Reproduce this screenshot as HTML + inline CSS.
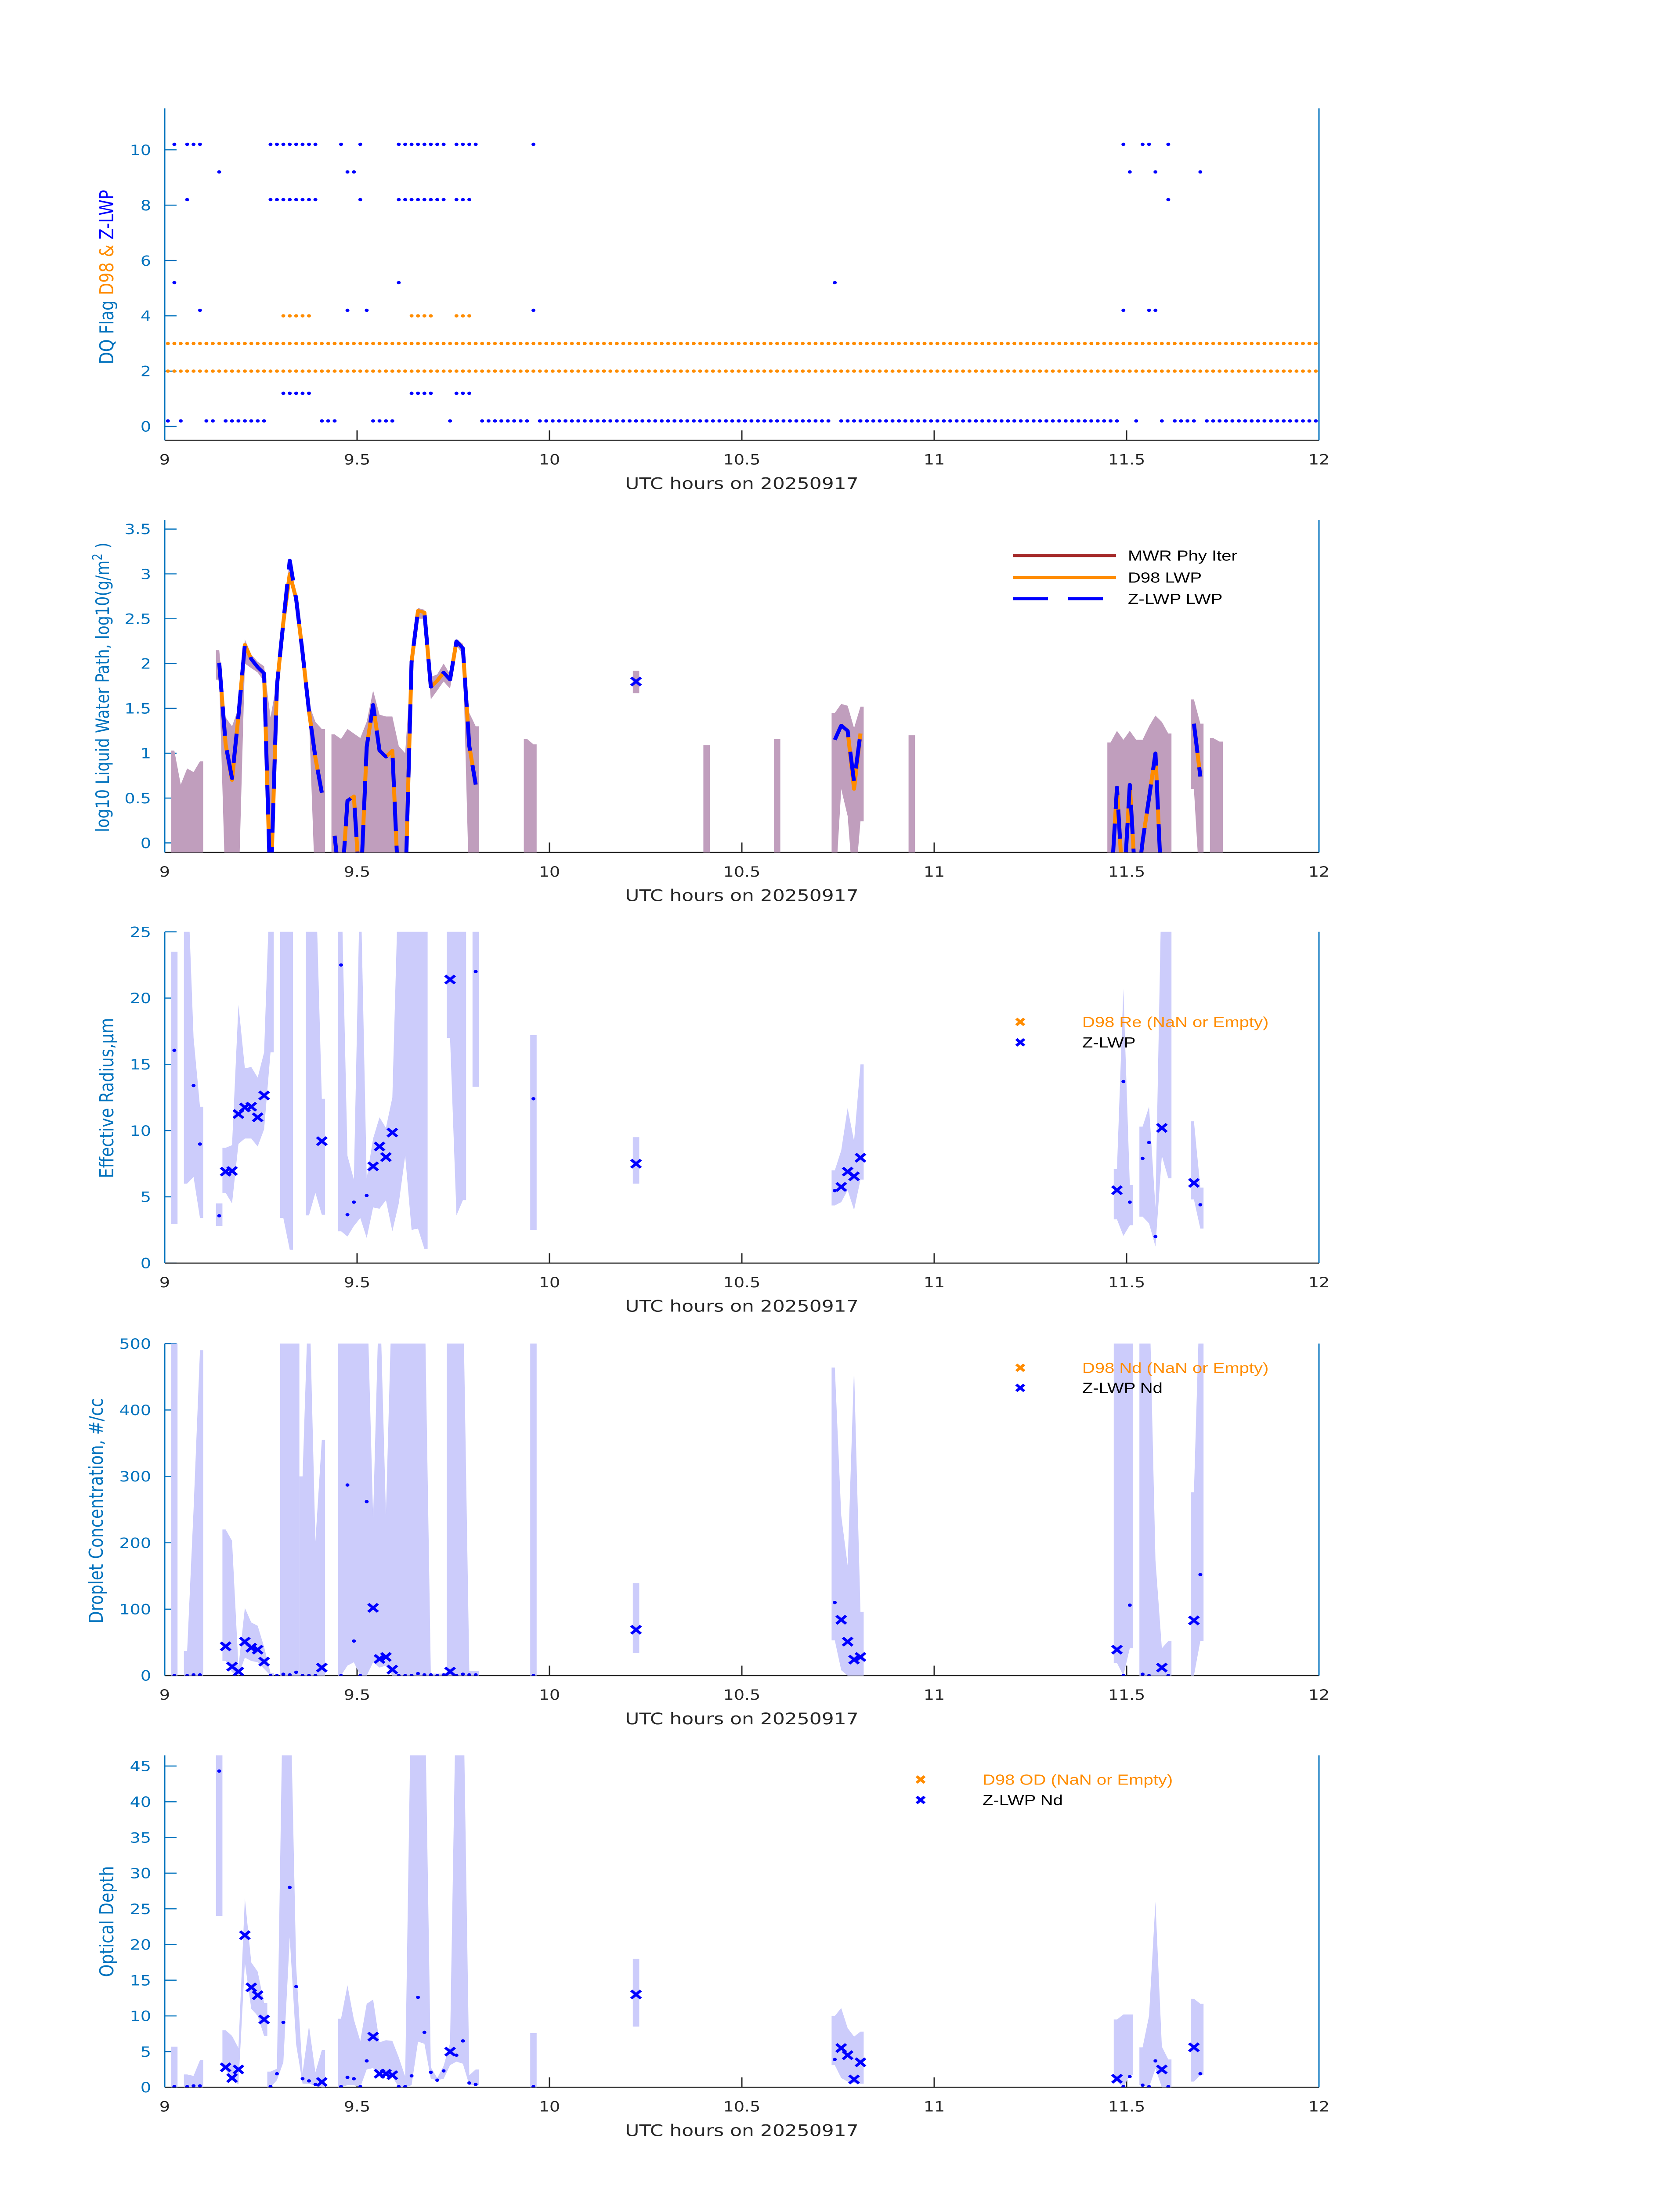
<!DOCTYPE html>
<html>
<head>
<meta charset="utf-8">
<style>
html,body{margin:0;padding:0;background:#fff;width:100%;height:100%;overflow:hidden;}
svg{display:block;position:absolute;left:0;top:0;width:100vw;height:100vh;}
text{font-family:"DejaVu Sans","Liberation Sans",sans-serif;}
.leg{font-family:"Liberation Sans Narrow","Liberation Sans",sans-serif;}
</style>
</head>
<body>
<svg id="fig" xmlns="http://www.w3.org/2000/svg" viewBox="0 0 3825 6000" preserveAspectRatio="none">
<rect x="0" y="0" width="3825" height="6000" fill="#ffffff"/>
</svg>
<script>
// ===== Data (minute index i => time = 9 + (i+0.5)/60 UTC hours) =====
function span(a,b){var r=[];for(var k=a;k<=b;k++)r.push(k);return r;}
var zFlag10 = [1,3,4,5].concat(span(16,23),[27,30],span(36,43),span(45,48),[57,149,152,153,156]);
var zFlag9 = [8,28,29,150,154,161];
var zFlag8 = [3].concat(span(16,23),[30],span(36,43),[45,46,47,156]);
var zFlag5 = [1,36,104];
var zFlag4 = [5,28,31,57,149,153,154];
var zFlag1 = span(18,22).concat(span(38,41),[45,46,47]);
var zFlag0 = [0,2,6,7].concat(span(9,15),[24,25,26],span(32,35),[44],span(49,56),span(58,103),span(105,148),[151,155],span(157,160),span(162,179));
var d98Flag4 = span(18,22).concat(span(38,41),[45,46,47]);
var d98Flag3 = span(0,179);
var d98Flag2 = span(0,179);

var zLwpMin = [8,9,10,11,12,13,14,15,16,17,18,19,20,21,22,23,24,26,27,28,29,30,31,32,33,34,35,36,37,38,39,40,41,42,43,44,45,46,47,48,73,104,105,106,107,108,147,148,149,150,151,152,153,154,155,160,161];
var zLwpVal = [2.01,1.1,0.72,1.42,2.21,2.05,1.96,1.89,-0.6,1.75,2.46,3.15,2.72,2.12,1.47,0.95,0.56,0.08,-0.6,0.47,0.52,-0.6,1.07,1.54,1.03,0.96,1.03,-0.6,-0.6,2.02,2.59,2.57,1.74,1.81,1.9,1.82,2.25,2.17,1.08,0.65,1.8,1.15,1.31,1.25,0.68,1.22,-0.6,0.62,-0.6,0.65,-0.6,0.02,0.5,1.0,-0.6,1.33,0.74];
var d98LwpMin = [8,9,10,11,12,13,14,15,16,17,18,19,20,21,22,23,24,26,27,28,29,30,31,32,33,34,35,36,37,38,39,40,41,42,43,44,45,46,47,48,105,106,107,108,147,148,149,150,151,152,153,154,155,160,161];
var d98LwpVal = [2.01,1.1,0.7,1.42,2.21,2.05,1.96,1.89,-0.6,1.75,2.46,3.0,2.72,2.12,1.47,0.95,0.56,0.08,-0.6,0.47,0.52,-0.6,1.07,1.54,1.03,0.96,1.03,-0.6,-0.6,2.02,2.59,2.57,1.74,1.81,1.9,1.82,2.25,2.17,1.08,0.65,1.31,1.25,0.6,1.22,-0.6,0.62,-0.6,0.65,-0.6,0.02,0.5,1.0,-0.6,1.33,0.74];
var lwpBandMin = [1,2,3,4,5,null,8,9,10,11,12,13,14,15,16,17,18,19,20,21,22,23,24,null,26,27,28,29,30,31,32,33,34,35,36,37,38,39,40,41,42,43,44,45,46,47,48,null,56,57,null,73,null,84,null,95,null,104,105,106,107,108,null,116,null,147,148,149,150,151,152,153,154,155,156,null,160,161,null,163,164];
var lwpBandUp = [1.03,0.65,0.83,0.79,0.91,null,2.15,1.4,1.3,1.5,2.27,2.1,2.02,1.97,1.4,1.8,2.5,3.17,2.75,2.15,1.55,1.35,1.27,null,1.21,1.16,1.27,1.22,1.17,1.35,1.7,1.43,1.41,1.41,1.08,1.0,2.05,2.62,2.6,1.85,1.88,2.0,1.88,2.27,2.22,1.45,1.3,null,1.16,1.1,null,1.92,null,1.09,null,1.16,null,1.45,1.55,1.53,1.28,1.52,null,1.2,null,1.12,1.25,1.15,1.25,1.15,1.15,1.3,1.42,1.35,1.22,null,1.6,1.33,null,1.17,1.13];
var lwpBandLo = [-0.6,-0.6,-0.6,-0.6,-0.6,null,1.82,-0.6,-0.6,-0.6,2.0,1.95,1.9,1.8,-0.6,1.7,2.4,3.1,2.7,2.05,1.4,-0.6,-0.6,null,-0.6,-0.6,-0.6,-0.6,-0.6,-0.6,-0.6,-0.6,-0.6,-0.6,-0.6,-0.6,1.95,2.5,2.5,1.6,1.7,1.8,1.72,2.2,2.1,-0.6,-0.6,null,-0.6,-0.6,null,1.67,null,-0.6,null,-0.6,null,-0.6,0.6,0.3,-0.6,0.24,null,-0.6,null,-0.6,-0.6,-0.6,-0.6,-0.6,-0.6,-0.6,-0.6,-0.6,-0.6,null,0.6,-0.6,null,-0.6,-0.6];

var reDotMin = [1,4,5,8,27,28,29,31,48,57,104,149,150,152,153,154,161];
var reDotVal = [16.06,13.4,8.98,3.57,22.5,3.65,4.6,5.1,22.0,12.4,5.47,13.7,4.6,7.9,9.1,2.0,4.4];
var reXMin = [9,10,11,12,13,14,15,24,32,33,34,35,44,73,105,106,107,108,148,155,160];
var reXVal = [6.9,6.95,11.25,11.75,11.8,11.0,12.65,9.2,7.3,8.8,8.0,9.85,21.4,7.5,5.75,6.9,6.55,7.95,5.5,10.2,6.05];
var reBandMin = [1,null,3,4,5,null,8,null,9,10,11,12,13,14,15,16,null,18,19,null,22,23,24,null,27,28,29,30,31,32,33,34,35,36,37,38,39,40,null,44,45,46,null,48,null,57,null,73,null,104,105,106,107,108,null,148,149,150,null,152,153,154,155,156,null,160,161];
var reBandUp = [23.5,null,30,17,11.8,null,4.5,null,8.7,8.9,19.5,14.7,14.8,14.0,15.9,30,null,30,30,null,30,30,12.4,null,30,8.1,6.3,30,6.4,9.4,11.0,10.2,12.5,30,30,30,30,30,null,30,30,30,null,30,null,17.2,null,9.5,null,7.0,8.5,11.7,9.2,15.0,null,7.1,20.7,5.9,null,10.3,11.8,4.2,30,30,null,10.7,5.7];
var reBandLo = [2.95,null,6.0,6.5,3.4,null,2.8,null,5.3,4.5,9.0,9.4,9.4,8.8,10.1,15.9,null,3.4,1.0,null,3.6,5.3,3.65,null,2.4,2.0,2.8,3.4,1.9,4.2,4.1,4.75,2.4,4.5,8.1,2.5,2.6,1.07,null,17.0,3.6,4.75,null,13.3,null,2.5,null,6.0,null,4.35,4.6,5.5,4.0,6.3,null,3.3,2.05,2.85,null,3.5,3.0,1.25,8.1,6.4,null,4.8,2.6];

var ndDotMin = [1,3,4,5,16,17,18,19,20,21,22,23,27,28,29,30,31,36,37,38,39,40,41,42,43,45,46,47,48,57,104,149,150,152,153,156,161];
var ndDotVal = [0,0,1,1,0,0,2,1,5,0,0,0,0,287,52,0,262,0,0,0,3,1,1,0,1,0,2,1,1,0,110,0,106,2,0,0,152];
var ndXMin = [9,10,11,12,13,14,15,24,32,33,34,35,44,73,105,106,107,108,148,155,160];
var ndXVal = [44,13.5,6,51,42,39,21,12,102,25,28,9,6,69,84,51,24,28,39,12,83];
var ndBandMin = [1,null,3,4,5,null,9,10,11,12,13,14,15,16,null,18,19,20,null,21,22,23,24,null,27,28,29,30,31,32,33,34,35,36,37,38,39,40,41,42,43,null,44,45,46,47,48,null,57,null,73,null,104,105,106,107,108,null,148,149,150,null,152,153,154,155,156,null,160,161];
var ndBandUp = [600,null,37,250,490,null,220,203,13,102,80,75,43,4,null,600,600,600,null,300,600,202,355,null,600,600,600,600,600,238,600,242,600,600,600,600,600,600,3,3,3,null,600,600,600,7,7,null,600,null,139,null,464,241,166,464,96,null,600,600,600,null,600,600,174,41,52,null,276,600];
var ndBandLo = [0,null,0,0,0,null,22,5,0,27,22,20,10,0,null,0,0,0,null,0,0,0,0,null,0,15,20,0,0,20,12,15,0,0,0,0,0,0,0,0,0,null,0,0,0,0,0,null,0,null,34,null,53,8,0,0,0,null,19,0,41,null,0,0,0,0,0,null,0,52];

var odDotMin = [1,3,4,5,8,16,17,18,19,20,21,22,23,27,28,29,30,31,36,37,38,39,40,41,42,43,45,46,47,48,57,104,149,150,152,153,154,156,161];
var odDotVal = [0.1,0.1,0.2,0.2,44.3,0.1,1.9,9.1,28.0,14.1,1.2,0.9,0.4,0.1,1.4,1.2,0.1,3.7,0.1,0.1,1.6,12.6,7.7,2.1,1.0,2.3,4.5,6.5,0.6,0.4,0.1,3.9,0.1,1.5,0.3,0.1,3.7,0.1,1.9];
var odXMin = [9,10,11,12,13,14,15,24,32,33,34,35,44,73,105,106,107,108,148,155,160];
var odXVal = [2.8,1.3,2.5,21.3,14.0,12.9,9.5,0.75,7.1,1.9,1.9,1.7,5.0,13.0,5.5,4.5,1.1,3.5,1.2,2.5,5.6];
var odBandMin = [1,null,3,4,5,null,8,null,9,10,11,12,13,14,15,null,16,17,18,19,20,21,22,23,24,null,27,28,29,30,31,32,33,34,35,36,37,38,39,40,41,42,43,44,45,46,47,48,null,57,null,73,null,104,105,106,107,108,null,148,149,150,null,152,153,154,155,156,null,160,161];
var odBandUp = [5.7,null,1.8,1.6,3.8,null,60,null,8.0,7.2,5.5,26.5,17.5,16.2,11.8,null,2.2,2.6,60,60,17,2,8.6,2.1,5.2,null,9.6,14.3,9.5,6.5,11.7,12.3,6.3,6.6,6.5,4.2,1.5,60,60,60,2.8,1.3,3.0,6.2,60,60,1.7,2.5,null,7.6,null,18,null,10,11.1,8.3,7.1,7.8,null,9.5,10.2,10.2,null,5.6,10,26,5.7,3.9,null,12.4,11.7];
var odBandLo = [0,null,0,0,0,null,24,null,2.5,1.0,0.4,17.5,11,10,7.2,null,0,1.0,3.5,21,6,0.5,0.5,0.2,0,null,0,0.3,0.3,0,2.5,2.7,1.5,1.6,1.5,0,0,0.3,6.4,6.1,1.2,1.0,1.2,3.1,3.6,3.3,0.3,0.3,null,0,null,8.5,null,3.1,1.3,0.8,0.6,0.5,null,0.8,0,1.7,null,0.3,0,2.6,0,0,null,0.8,1.7];

var xTicks = [9,9.5,10,10.5,11,11.5,12];
var xTickLabels = ["9","9.5","10","10.5","11","11.5","12"];
var p1Ticks = [0,2,4,6,8,10];
var p2Ticks = [0,0.5,1,1.5,2,2.5,3,3.5];
var p2TickLabels = ["0","0.5","1","1.5","2","2.5","3","3.5"];
var p3Ticks = [0,5,10,15,20,25];
var p4Ticks = [0,100,200,300,400,500];
var p5Ticks = [0,5,10,15,20,25,30,35,40,45];

var NS = "http://www.w3.org/2000/svg";
var svg = document.getElementById('fig');
var X0 = 375, X1 = 3003;
var AXC = "#0072BD", DARK = "#262626", BLUE = "#0000FF", ORANGE = "#FF8C00";
function mk(tag, parent){ var e = document.createElementNS(NS, tag); parent.appendChild(e); return e; }
function xHour(h){ return X0 + (h - 9) / 3 * (X1 - X0); }
function xMin(m){ return xHour(9 + (m + 0.5) / 60); }

var panels = [
 {top:296, bot:1203, ymin:-0.5, ymax:11.5, ticks:p1Ticks, labels:null},
 {top:1421, bot:2329, ymin:-0.106, ymax:3.6, ticks:p2Ticks, labels:p2TickLabels},
 {top:2546, bot:3451, ymin:0, ymax:25, ticks:p3Ticks, labels:null},
 {top:3671, bot:4578, ymin:0, ymax:500, ticks:p4Ticks, labels:null},
 {top:4796, bot:5703, ymin:0, ymax:46.5, ticks:p5Ticks, labels:null}
];
function yOf(p, v){ return p.bot - (v - p.ymin) / (p.ymax - p.ymin) * (p.bot - p.top); }

var defs = mk('defs', svg);
panels.forEach(function(p, k){
  var cp = mk('clipPath', defs); cp.setAttribute('id', 'clip' + k);
  var r = mk('rect', cp);
  r.setAttribute('x', X0); r.setAttribute('y', p.top); r.setAttribute('width', X1 - X0); r.setAttribute('height', p.bot - p.top);
});

function drawAxes(p, k){
  var g = mk('g', svg);
  
  
  xTicks.forEach(function(h, j){
    var x = xHour(h);
    var t = mk('line', g);
    
    
    t.setAttribute('x1', x); t.setAttribute('x2', x); t.setAttribute('y1', p.bot); t.setAttribute('y2', p.bot - 27);
    t.setAttribute('stroke', DARK); t.setAttribute('stroke-width', 3);
    var tl = mk('text', g);
    
    
    tl.setAttribute('x', x); tl.setAttribute('y', p.bot + 66); tl.setAttribute('text-anchor', 'middle');
    tl.setAttribute('font-size', 38); tl.setAttribute('fill', DARK);
    tl.textContent = xTickLabels[j];
  });
  p.ticks.forEach(function(v, j){
    var y = yOf(p, v);
    var t = mk('line', g);
    
    
    t.setAttribute('x1', X0); t.setAttribute('x2', X0 + 27); t.setAttribute('y1', y); t.setAttribute('y2', y);
    t.setAttribute('stroke', AXC); t.setAttribute('stroke-width', 3);
    var tl = mk('text', g);
    
    
    tl.setAttribute('x', 344); tl.setAttribute('y', y + 14); tl.setAttribute('text-anchor', 'end');
    tl.setAttribute('font-size', 38); tl.setAttribute('fill', AXC);
    tl.textContent = p.labels ? p.labels[j] : String(v);
  });
  var xa = mk('line', g);
  
  
  xa.setAttribute('x1', X0); xa.setAttribute('x2', X1); xa.setAttribute('y1', p.bot); xa.setAttribute('y2', p.bot);
  xa.setAttribute('stroke', DARK); xa.setAttribute('stroke-width', 3);
  var ya = mk('line', g);
  
  
  ya.setAttribute('x1', X0); ya.setAttribute('x2', X0); ya.setAttribute('y1', p.top); ya.setAttribute('y2', p.bot);
  ya.setAttribute('stroke', AXC); ya.setAttribute('stroke-width', 3);
  var ra = mk('line', g);
  
  
  ra.setAttribute('x1', X1); ra.setAttribute('x2', X1); ra.setAttribute('y1', p.top); ra.setAttribute('y2', p.bot);
  ra.setAttribute('stroke', AXC); ra.setAttribute('stroke-width', 3);
  var xl = mk('text', g);
  
  
  xl.setAttribute('x', 1689); xl.setAttribute('y', p.bot + 133); xl.setAttribute('text-anchor', 'middle');
  xl.setAttribute('font-size', 44); xl.setAttribute('fill', DARK);
  xl.textContent = 'UTC hours on 20250917';
}
panels.forEach(drawAxes);

function plotGroup(k, name){
  var g = mk('g', svg);
  g.setAttribute('clip-path', 'url(#clip' + k + ')');
  
  
  return g;
}
function drawBand(g, p, mins, up, lo, color){
  var runs = [], cur = [];
  for (var k = 0; k < mins.length; k++){
    if (mins[k] === null){ if (cur.length) runs.push(cur); cur = []; continue; }
    if (cur.length && mins[k] !== mins[cur[cur.length - 1]] + 1){ runs.push(cur); cur = []; }
    cur.push(k);
  }
  if (cur.length) runs.push(cur);
  runs.forEach(function(r){
    var pts = [];
    var f = r[0], l = r[r.length - 1];
    pts.push([xMin(mins[f] - 0.5), yOf(p, up[f])]);
    r.forEach(function(k){ pts.push([xMin(mins[k]), yOf(p, up[k])]); });
    pts.push([xMin(mins[l] + 0.5), yOf(p, up[l])]);
    pts.push([xMin(mins[l] + 0.5), yOf(p, lo[l])]);
    r.slice().reverse().forEach(function(k){ pts.push([xMin(mins[k]), yOf(p, lo[k])]); });
    pts.push([xMin(mins[f] - 0.5), yOf(p, lo[f])]);
    var poly = mk('polygon', g);
    
    
    poly.setAttribute('points', pts.map(function(q){ return q[0].toFixed(1) + ',' + q[1].toFixed(1); }).join(' '));
    poly.setAttribute('fill', color);
  });
}
function drawXMark(g, cx, cy, s, color, sw){
  var path = mk('path', g);
  
  
  path.setAttribute('d', 'M' + (cx - s) + ',' + (cy - s) + 'L' + (cx + s) + ',' + (cy + s) + 'M' + (cx - s) + ',' + (cy + s) + 'L' + (cx + s) + ',' + (cy - s));
  path.setAttribute('stroke', color); path.setAttribute('stroke-width', sw);
  path.setAttribute('fill', 'none');
  return path;
}
function drawDots(g, p, mins, vals, color, r, name){
  mins.forEach(function(m, k){
    var c = mk('circle', g);
    
    
    c.setAttribute('cx', xMin(m)); c.setAttribute('cy', yOf(p, vals[k])); c.setAttribute('r', r);
    c.setAttribute('fill', color);
  });
}
function drawXs(g, p, mins, vals){
  mins.forEach(function(m, k){ drawXMark(g, xMin(m), yOf(p, vals[k]), 11, BLUE, 7); });
}
function drawLine(g, p, mins, vals, color, width, dash, name, markIsolated){
  var runs = [], cur = [];
  for (var k = 0; k < mins.length; k++){
    if (cur.length && mins[k] !== mins[cur[cur.length - 1]] + 1){ runs.push(cur); cur = []; }
    cur.push(k);
  }
  if (cur.length) runs.push(cur);
  runs.forEach(function(r){
    if (r.length === 1){
      if (markIsolated) drawXMark(g, xMin(mins[r[0]]), yOf(p, vals[r[0]]), 11, color, 7);
      return;
    }
    var pl = mk('polyline', g);
    
    
    pl.setAttribute('points', r.map(function(k){ return xMin(mins[k]).toFixed(1) + ',' + yOf(p, vals[k]).toFixed(1); }).join(' '));
    pl.setAttribute('fill', 'none'); pl.setAttribute('stroke', color); pl.setAttribute('stroke-width', width);
    pl.setAttribute('stroke-linejoin', 'round');
    if (dash) pl.setAttribute('stroke-dasharray', dash);
  });
}

(function(){
  var p = panels[0];
  var g = plotGroup(0, 'dq-flag-plot');
  drawDots(g, p, d98Flag3, d98Flag3.map(function(){ return 3; }), ORANGE, 4.5, 'd98-flag-point');
  drawDots(g, p, d98Flag2, d98Flag2.map(function(){ return 2; }), ORANGE, 4.5, 'd98-flag-point');
  drawDots(g, p, d98Flag4, d98Flag4.map(function(){ return 4; }), ORANGE, 4.5, 'd98-flag-point');
  var rows = [[zFlag10,10],[zFlag9,9],[zFlag8,8],[zFlag5,5],[zFlag4,4],[zFlag1,1],[zFlag0,0]];
  rows.forEach(function(rw){
    drawDots(g, p, rw[0], rw[0].map(function(){ return rw[1] + 0.2; }), BLUE, 4.5, 'zlwp-flag-point');
  });
  var yl = mk('text', svg);
  
  
  yl.setAttribute('transform', 'translate(258,757) rotate(-90)');
  yl.setAttribute('text-anchor', 'middle'); yl.setAttribute('font-size', 44);
  var s1 = mk('tspan', yl); s1.setAttribute('fill', AXC); s1.textContent = 'DQ Flag  ';
  var s2 = mk('tspan', yl); s2.setAttribute('fill', ORANGE); s2.textContent = 'D98 &  ';
  var s3 = mk('tspan', yl); s3.setAttribute('fill', BLUE); s3.textContent = 'Z-LWP';
})();

(function(){
  var p = panels[1];
  var g = plotGroup(1, 'lwp-plot');
  drawBand(g, p, lwpBandMin, lwpBandUp, lwpBandLo, '#C09EBD');
  drawLine(g, p, d98LwpMin, d98LwpVal, ORANGE, 9, null, 'd98-lwp-line', false);
  drawLine(g, p, zLwpMin, zLwpVal, BLUE, 9, '80 40', 'zlwp-lwp-line', true);
  var yl = mk('text', svg);
  
  
  yl.setAttribute('transform', 'translate(248,1878) rotate(-90)');
  yl.setAttribute('text-anchor', 'middle'); yl.setAttribute('font-size', 42); yl.setAttribute('fill', AXC);
  var a = mk('tspan', yl); a.textContent = 'log10 Liquid Water Path, log10(g/m';
  var b = mk('tspan', yl); b.setAttribute('font-size', 30); b.setAttribute('dy', -16); b.textContent = '2';
  var c = mk('tspan', yl); c.setAttribute('dy', 16); c.textContent = ' )';
  var lg = mk('g', svg);
  
  
  var ent = [['MWR Phy Iter', '#A52A2A', null, 1518], ['D98 LWP', ORANGE, null, 1578], ['Z-LWP LWP', BLUE, '79 46', 1636]];
  ent.forEach(function(e){
    var ln = mk('line', lg);
    
    
    ln.setAttribute('x1', 2307); ln.setAttribute('x2', 2541); ln.setAttribute('y1', e[3]); ln.setAttribute('y2', e[3]);
    ln.setAttribute('stroke', e[1]); ln.setAttribute('stroke-width', 8);
    if (e[2]) ln.setAttribute('stroke-dasharray', e[2]);
    var t = mk('text', lg);
    
    
    t.setAttribute('class', 'leg');
    t.setAttribute('x', 2568); t.setAttribute('y', e[3] + 14); t.setAttribute('font-size', 40); t.setAttribute('fill', '#000');
    t.textContent = e[0];
  });
})();

function markerLegend(mx, tx, y1, y2, label1, label2){
  var lg = mk('g', svg);
  
  
  drawXMark(lg, mx, y1, 9, ORANGE, 7);
  drawXMark(lg, mx, y2, 9, BLUE, 7);
  var t1 = mk('text', lg);
  
  
  t1.setAttribute('class', 'leg');
  t1.setAttribute('x', tx); t1.setAttribute('y', y1 + 14); t1.setAttribute('font-size', 40); t1.setAttribute('fill', ORANGE);
  t1.textContent = label1;
  var t2 = mk('text', lg);
  
  
  t2.setAttribute('class', 'leg');
  t2.setAttribute('x', tx); t2.setAttribute('y', y2 + 14); t2.setAttribute('font-size', 40); t2.setAttribute('fill', '#000');
  t2.textContent = label2;
}
function yTitle(x, y, txt){
  var yl = mk('text', svg);
  
  
  yl.setAttribute('transform', 'translate(' + x + ',' + y + ') rotate(-90)');
  yl.setAttribute('text-anchor', 'middle'); yl.setAttribute('font-size', 44); yl.setAttribute('fill', AXC);
  yl.textContent = txt;
  return yl;
}

(function(){
  var p = panels[2];
  var g = plotGroup(2, 'effective-radius-plot');
  drawBand(g, p, reBandMin, reBandUp, reBandLo, '#CCCCFB');
  drawDots(g, p, reDotMin, reDotVal, BLUE, 4.5, 'zlwp-re-point');
  drawXs(g, p, reXMin, reXVal);
  yTitle(258, 3000, 'Effective Radius,\u03BCm');
  markerLegend(2323, 2464, 2792, 2848, 'D98 Re (NaN or Empty)', 'Z-LWP');
})();

(function(){
  var p = panels[3];
  var g = plotGroup(3, 'droplet-concentration-plot');
  drawBand(g, p, ndBandMin, ndBandUp, ndBandLo, '#CCCCFB');
  drawDots(g, p, ndDotMin, ndDotVal, BLUE, 4.5, 'zlwp-nd-point');
  drawXs(g, p, ndXMin, ndXVal);
  yTitle(234, 4128, 'Droplet Concentration, #/cc');
  markerLegend(2323, 2464, 3737, 3792, 'D98 Nd (NaN or Empty)', 'Z-LWP Nd');
})();

(function(){
  var p = panels[4];
  var g = plotGroup(4, 'optical-depth-plot');
  drawBand(g, p, odBandMin, odBandUp, odBandLo, '#CCCCFB');
  drawDots(g, p, odDotMin, odDotVal, BLUE, 4.5, 'zlwp-od-point');
  drawXs(g, p, odXMin, odXVal);
  yTitle(258, 5250, 'Optical Depth');
  markerLegend(2096, 2237, 4862, 4918, 'D98 OD (NaN or Empty)', 'Z-LWP Nd');
})();
</script>
</body>
</html>
